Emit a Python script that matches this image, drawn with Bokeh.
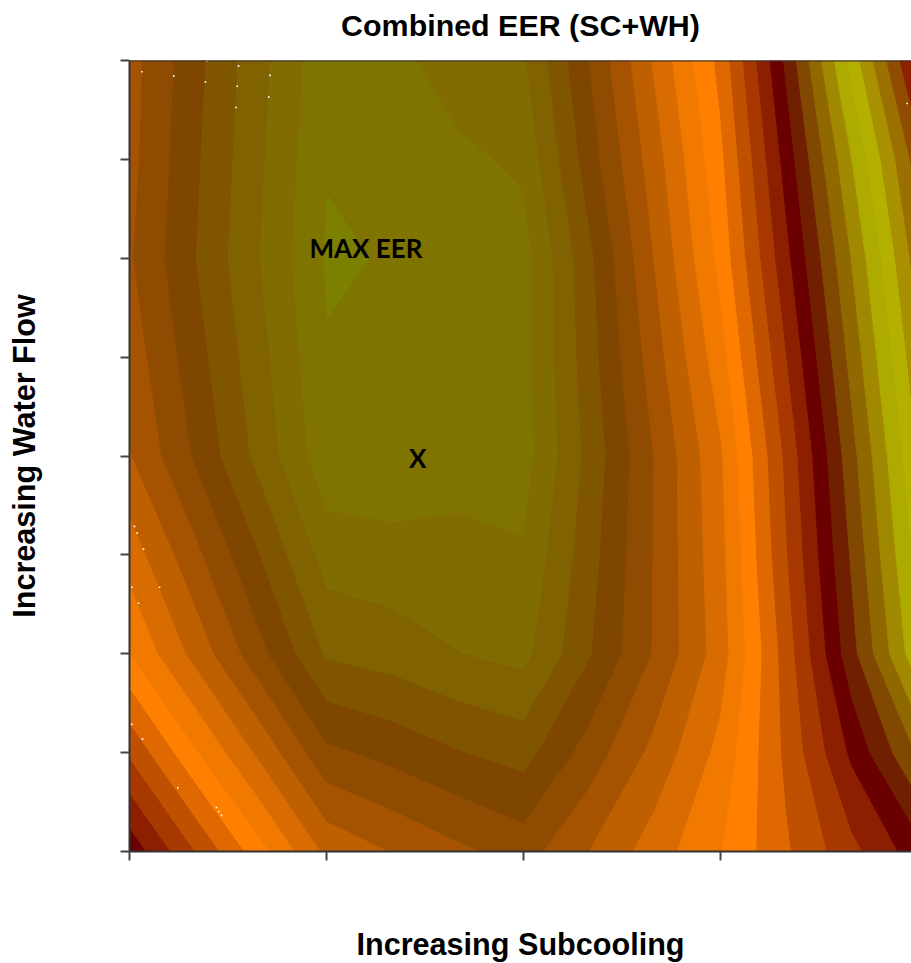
from bokeh.plotting import figure
from bokeh.embed import file_html
from bokeh.resources import INLINE
from bokeh.models import FixedTicker, Span, Title
from bokeh.core.properties import value

title_text = "Combined EER (SC+WH)"
x_label = "Increasing Subcooling"
y_label = "Increasing Water Flow"
annotations = ["MAX EER", "X"]
annotation_x = [3.6, 4.39]
annotation_y = [6.106, 3.98]

subcooling = [0, 1, 2, 3, 4, 5, 6, 7, 8, 9, 10, 11, 12]
water_flow = [0, 1, 2, 3, 4, 5, 6, 7, 8]
x_ticks = [0, 3, 6, 9, 12]
y_ticks = [0, 1, 2, 3, 4, 5, 6, 7, 8]

# Position of each grid point on the colour sequence (0 = best EER)
row_0 = [16.65, 13.95, 11.3, 8.75, 7.95, 7.2, 6.55, 8.0, 9.5, 10.95, 12.85, 14.7, 16.55]
row_1 = [13.8, 11.1, 8.7, 6.22, 5.66, 5.05, 4.6, 6.43, 8.3, 10.3, 13.2, 16.2, 19.1]
row_2 = [11.0, 8.65, 6.25, 3.85, 3.53, 3.02, 2.67, 4.9, 7.1, 9.5, 13.45, 17.65, 21.75]
row_3 = [9.55, 7.25, 4.93, 2.55, 2.35, 2.4, 2.1, 4.58, 7.07, 9.67, 13.9, 18.15, 22.4]
row_4 = [8.05, 5.85, 3.6, 1.31, 1.25, 1.45, 1.55, 4.3, 7.05, 9.85, 14.2, 18.65, 23.0]
row_5 = [7.55, 5.39, 3.27, 1.07, 1.1, 1.2, 1.6, 4.55, 7.55, 10.6, 14.95, 19.35, 23.7]
row_6 = [7.1, 5.0, 2.94, 0.88, 1.06, 1.25, 1.55, 4.75, 8.05, 11.3, 15.7, 20.05, 24.5]
row_7 = [7.3, 5.15, 3.1, 1.06, 1.3, 1.74, 2.2, 5.5, 8.55, 11.75, 16.4, 21.0, 25.5]
row_8 = [7.4, 5.3, 3.25, 1.28, 1.6, 2.6, 2.85, 6.0, 9.15, 12.3, 17.2, 22.4, 27.3]
eer_grid = [row_0, row_1, row_2, row_3, row_4, row_5, row_6, row_7, row_8]

levels = list(range(29))
band_colors = [
    "#7b8000", "#807400", "#806c00", "#806200", "#805500", "#7f4600", "#8f4b00",
    "#a55300", "#bf6000", "#d96c00", "#f27900", "#ff8000", "#e06800", "#bf5000",
    "#a63800", "#8c1f00", "#6b0000", "#702000", "#804800", "#906800", "#a08800",
    "#adaa00", "#b3b000", "#a89000", "#9c7000", "#904c00", "#8c2000", "#7a1000",
]

speck_x = [0.19, 0.675, 1.157, 1.177, 1.66, 1.64, 1.62, 2.14, 2.12, 0.076, 0.117, 0.213, 0.035,
           0.457, 0.137, 0.035, 0.198, 0.736, 1.325, 1.36, 1.40, 11.84]
speck_y = [7.886, 7.845, 7.784, 7.993, 7.946, 7.74, 7.524, 7.85, 7.63, 3.288, 3.22, 3.058, 2.673,
           2.673, 2.511, 1.286, 1.137, 0.645, 0.445, 0.405, 0.365, 7.565]

p = figure(width=911, height=963, output_backend="svg", toolbar_location=None,
           x_range=(0, 11.908), y_range=(0, 8), tools="",
           min_border_left=129, min_border_right=0, min_border_top=60, min_border_bottom=112)
p.background_fill_color = "#8f4b00"
p.outline_line_color = None
p.grid.visible = False

p.title = None
p.add_layout(Title(text=" ", text_font_size="11px", standoff=0), "above")
p.add_layout(Title(text=title_text, text_font="Liberation Sans", text_font_size="30.4px",
                   text_font_style="bold", text_color="#000000", align="center", offset=7,
                   standoff=10, text_line_height=1.0), "above")

p.contour(subcooling, water_flow, eer_grid, levels, fill_color=band_colors,
          line_color=band_colors + ["#7a1000"], line_width=1)

p.scatter(speck_x, speck_y, marker="square", size=1.6, color="#ffffff", line_color=None)

p.text(annotation_x, annotation_y, text=annotations, text_font=value("Lato"), text_font_size="26px",
       text_font_style="bold", text_color="#000000", text_align="center", text_baseline="middle")

p.add_layout(Span(location=8, dimension="width", line_color="#333333", line_width=2))

for axis, ticks, label in ((p.xaxis[0], x_ticks, x_label), (p.yaxis[0], y_ticks, y_label)):
    axis.ticker = FixedTicker(ticks=ticks)
    axis.major_label_overrides = {t: "" for t in ticks}
    axis.major_label_text_font_size = "1px"
    axis.major_label_standoff = 0
    axis.minor_tick_line_color = None
    axis.major_tick_in = 0
    axis.major_tick_out = 9
    axis.major_tick_line_color = "#444444"
    axis.major_tick_line_width = 2
    axis.axis_line_color = "#333333"
    axis.axis_line_width = 2
    axis.axis_label = label
    axis.axis_label_text_font = "Liberation Sans"
    axis.axis_label_text_font_size = "30.6px"
    axis.axis_label_text_font_style = "bold"
    axis.axis_label_text_color = "#000000"
    axis.axis_label_text_line_height = 1.0
p.xaxis[0].axis_label_standoff = 66
p.yaxis[0].axis_label_standoff = 80

open("out.html", "w").write(file_html(p, INLINE))
